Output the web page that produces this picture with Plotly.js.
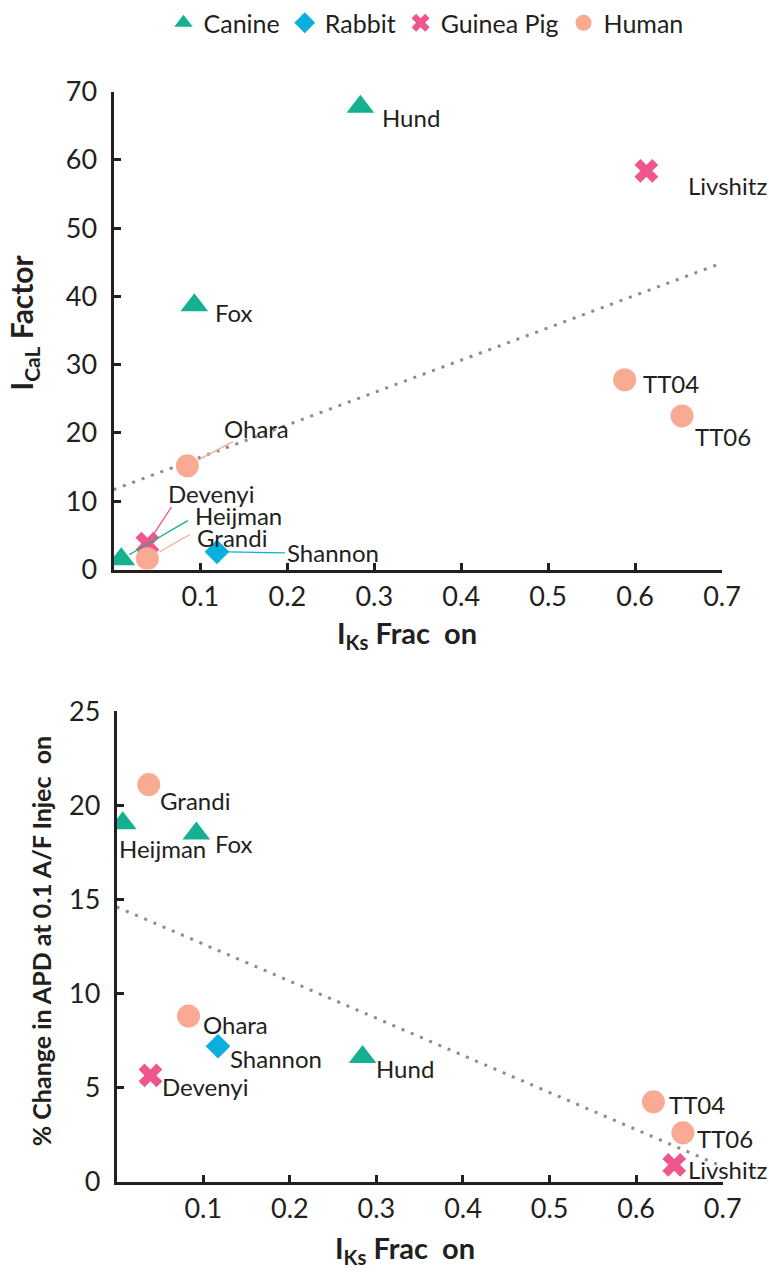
<!DOCTYPE html>
<html><head><meta charset="utf-8">
<script src="https://cdn.plot.ly/plotly-3.0.1.min.js"></script>
<style>html,body{margin:0;padding:0;background:#fff}</style>
</head><body><div id="chart" style="width:769px;height:1273px"></div>
<script>
// ---- data ----
const speciesNames = ['Canine', 'Rabbit', 'Guinea Pig', 'Human'];
const models = ['Heijman', 'Fox', 'Hund', 'Shannon', 'Devenyi', 'Livshitz', 'Grandi', 'Ohara', 'TT04', 'TT06'];
const modelSpecies = ['Canine', 'Canine', 'Canine', 'Rabbit', 'Guinea Pig', 'Guinea Pig', 'Human', 'Human', 'Human', 'Human'];
const iksFracTop = [0.009, 0.093, 0.284, 0.119, 0.039, 0.613, 0.039, 0.085, 0.588, 0.654];
const icalFactor = [1.5, 38.7, 67.8, 2.6, 3.8, 58.4, 1.6, 15.2, 27.8, 22.5];
const iksFracBottom = [0.007, 0.092, 0.284, 0.117, 0.039, 0.644, 0.037, 0.083, 0.620, 0.654];
const apdChange = [19.05, 18.5, 6.63, 7.2, 5.65, 0.9, 21.1, 8.8, 4.25, 2.6];
const trendTopX = [0, 0.7];
const trendTopY = [11.7, 44.9];
const trendBottomX = [0, 0.7];
const trendBottomY = [14.6, 0.8];
const xTickVals = [0.1, 0.2, 0.3, 0.4, 0.5, 0.6, 0.7];
const yTickValsTop = [0, 10, 20, 30, 40, 50, 60, 70];
const yTickValsBottom = [0, 5, 10, 15, 20, 25];

// ---- styles ----
const FONT = 'Lato, "Open Sans", sans-serif';
const INK = '#231f20';
const speciesStyle = {
  'Canine': {symbol: 'triangle-up', size: 24, color: '#14b08f'},
  'Rabbit': {symbol: 'diamond', size: 19, color: '#0aafdf'},
  'Guinea Pig': {symbol: 'x', size: 21, color: '#f0558e'},
  'Human': {symbol: 'circle', size: 23, color: '#f9aa92'}
};
// label offsets in px: [dx, dy(down)], optional leader [ax, ay, standoff]
const labelTop = {
  Heijman: {t: [74, -43.5], l: [68, -39.5, 9]},
  Fox: {t: [21, 7]},
  Hund: {t: [22, 11]},
  Shannon: {t: [70.5, 1], l: [69.5, 1, 11]},
  Devenyi: {t: [21, -50], l: [25, -38, 11]},
  Livshitz: {t: [42, 15]},
  Grandi: {t: [50, -21], l: [44, -25, 14]},
  Ohara: {t: [37, -37], l: [47, -25, 12]},
  TT04: {t: [18, 4]},
  TT06: {t: [13, 21]}
};
const labelBottom = {
  Heijman: {t: [-3.5, 25]}, Fox: {t: [19, 10]}, Hund: {t: [13, 12]}, Shannon: {t: [12, 12]},
  Devenyi: {t: [12, 11]}, Livshitz: {t: [14, 5]}, Grandi: {t: [11, 16]}, Ohara: {t: [14, 8]},
  TT04: {t: [16, 3]}, TT06: {t: [14, 6]}
};

const traces = [];
function addSpecies(xs, ys, xa, ya, showlegend) {
  speciesNames.forEach(sp => {
    const idx = models.map((m, i) => i).filter(i => modelSpecies[i] === sp);
    const st = speciesStyle[sp];
    traces.push({
      type: 'scatter', mode: 'markers', name: sp, legendgroup: sp, showlegend: showlegend,
      x: idx.map(i => xs[i]), y: idx.map(i => ys[i]), text: idx.map(i => models[i]),
      xaxis: xa, yaxis: ya, hoverinfo: 'text+x+y',
      marker: {symbol: st.symbol, size: st.size, color: st.color, line: {width: 0}}
    });
  });
}
function addTrend(xs, ys, xa, ya) {
  traces.push({type: 'scatter', mode: 'lines', x: xs, y: ys, xaxis: xa, yaxis: ya, showlegend: false,
    hoverinfo: 'skip', line: {color: '#8c8c8c', width: 3, dash: '3px,7px'}});
}
addTrend(trendTopX, trendTopY, 'x', 'y');
addSpecies(iksFracTop, icalFactor, 'x', 'y', true);
addTrend(trendBottomX, trendBottomY, 'x2', 'y2');
addSpecies(iksFracBottom, apdChange, 'x2', 'y2', false);

const annotations = [];
function addLabels(xs, ys, xr, yr, cfg) {
  models.forEach((m, i) => {
    const c = cfg[m];
    const col = speciesStyle[modelSpecies[i]].color;
    if (c.l) {
      annotations.push({xref: xr, yref: yr, x: xs[i], y: ys[i], text: '', showarrow: true,
        arrowhead: 0, arrowwidth: 1.3, arrowcolor: col, ax: c.l[0], ay: c.l[1], standoff: c.l[2]});
    }
    annotations.push({xref: xr, yref: yr, x: xs[i], y: ys[i], text: m, showarrow: false,
      xanchor: 'left', yanchor: 'middle', xshift: c.t[0] - 2, yshift: -c.t[1],
      font: {family: FONT, size: 24, color: INK}});
  });
}
addLabels(iksFracTop, icalFactor, 'x', 'y', labelTop);
addLabels(iksFracBottom, apdChange, 'x2', 'y2', labelBottom);

const H = 1273, W = 769;
const titleFont = {family: FONT, size: 29, color: INK};
annotations.push(
  {xref: 'paper', yref: 'paper', x: 407 / W, y: 1 - 634 / H, xanchor: 'center', yanchor: 'middle',
   showarrow: false, text: '<b>I<sub>Ks</sub> Frac\u00a0\u00a0on</b>', font: titleFont},
  {xref: 'paper', yref: 'paper', x: 405 / W, y: 1 - 1249 / H, xanchor: 'center', yanchor: 'middle',
   showarrow: false, text: '<b>I<sub>Ks</sub> Frac\u00a0\u00a0on</b>', font: titleFont},
  {xref: 'paper', yref: 'paper', x: 23 / W, y: 1 - 322 / H, xanchor: 'center', yanchor: 'middle',
   showarrow: false, textangle: -90, text: '<b>I<sub>CaL</sub> Factor</b>', font: {family: FONT, size: 30, color: INK}},
  {xref: 'paper', yref: 'paper', x: 41 / W, y: 1 - 941 / H, xanchor: 'center', yanchor: 'middle',
   showarrow: false, textangle: -90, text: '<b>% Change in APD at 0.1 A/F Injec\u00a0\u00a0on</b>',
   font: {family: FONT, size: 25, color: INK}}
);

const axisCommon = {
  showgrid: false, zeroline: false, showline: true, linecolor: INK, linewidth: 3,
  ticks: 'inside', ticklen: 7, tickwidth: 3, tickcolor: INK,
  tickfont: {family: FONT, size: 27, color: INK}, fixedrange: true
};
const layout = {
  width: W, height: H, margin: {l: 0, r: 0, t: 0, b: 0},
  paper_bgcolor: '#fff', plot_bgcolor: '#fff', font: {family: FONT, color: INK},
  showlegend: true,
  legend: {orientation: 'h', x: 426 / W, xanchor: 'center', y: 1 - 22 / H, yanchor: 'middle',
    font: {family: FONT, size: 25, color: INK}, itemsizing: 'trace', bgcolor: 'rgba(0,0,0,0)'},
  xaxis: Object.assign({}, axisCommon, {domain: [113.5 / W, 722 / W], range: [0, 0.7], anchor: 'y',
    tickvals: xTickVals, ticklabelstandoff: 1}),
  yaxis: Object.assign({}, axisCommon, {domain: [1 - 569 / H, 1 - 90.7 / H], range: [0, 70], anchor: 'x',
    tickvals: yTickValsTop, ticklabelstandoff: 8}),
  xaxis2: Object.assign({}, axisCommon, {domain: [116.7 / W, 722.7 / W], range: [0, 0.7], anchor: 'y2',
    tickvals: xTickVals, ticklabelstandoff: 1}),
  yaxis2: Object.assign({}, axisCommon, {domain: [1 - 1181.7 / H, 1 - 710.7 / H], range: [0, 25], anchor: 'x2',
    tickvals: yTickValsBottom, ticklabelstandoff: 8}),
  annotations: annotations
};
Plotly.newPlot('chart', traces, layout, {displayModeBar: false, responsive: false});
</script></body></html>
